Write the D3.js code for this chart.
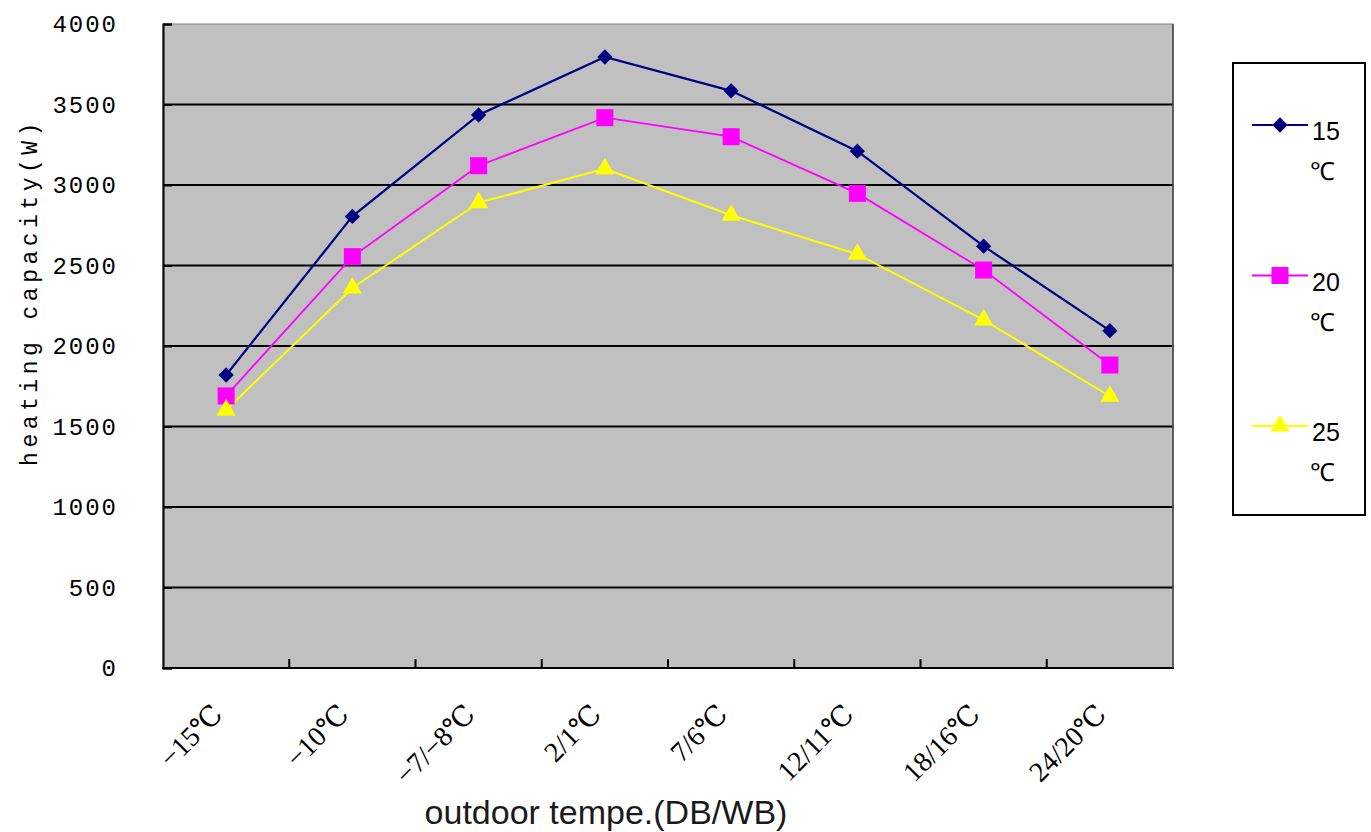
<!DOCTYPE html>
<html>
<head>
<meta charset="utf-8">
<script src="https://cdn.jsdelivr.net/npm/d3@7"></script>
<style>
  body { margin: 0; background: #fff; }
  svg { display: block; }
</style>
</head>
<body>
<div id="chart"></div>
<script>
// data
var categories = ["\u221215\u2103", "\u221210\u2103", "\u22127/\u22128\u2103", "2/1\u2103",
	"7/6\u2103", "12/11\u2103", "18/16\u2103", "24/20\u2103"];
var yTicks = [0, 500, 1000, 1500, 2000, 2500, 3000, 3500, 4000];
var seriesNames = ["15", "20", "25"];
var s15 = [1820, 2805, 3435, 3795, 3585, 3210, 2620, 2095];
var s20 = [1690, 2555, 3120, 3418, 3300, 2948, 2472, 1882];
var s25 = [1602, 2360, 2890, 3100, 2812, 2570, 2162, 1688];

var W = 1371, H = 832;
var plot = {left: 163, right: 1173, top: 24, bottom: 668};

var svg = d3.select("#chart").append("svg")
	.attr("width", W)
	.attr("height", H);

var x = d3.scaleBand()
	.domain(categories)
	.range([plot.left, plot.right]);
var y = d3.scaleLinear()
	.domain([0, 4000])
	.range([plot.bottom, plot.top]);

// plot background
svg.append("rect")
	.attr("x", plot.left)
	.attr("y", plot.top)
	.attr("width", plot.right - plot.left)
	.attr("height", plot.bottom - plot.top)
	.attr("fill", "#c0c0c0")
	.attr("stroke", "#808080")
	.attr("stroke-width", 1);

// horizontal gridlines
svg.append("g")
	.selectAll("line")
	.data(yTicks.filter(d => d > 0 && d < 4000))
	.join("line")
	.attr("x1", plot.left)
	.attr("x2", plot.right)
	.attr("y1", d => y(d))
	.attr("y2", d => y(d))
	.attr("stroke", "#000")
	.attr("stroke-width", 2);

// y axis (ticks point inward)
var yAxis = svg.append("g")
	.attr("transform", "translate(" + plot.left + ",0)")
	.call(d3.axisRight(y).tickValues(yTicks).tickSize(9).tickFormat(""));
yAxis.select(".domain").attr("stroke", "#000").attr("stroke-width", 2);
yAxis.selectAll(".tick line").attr("stroke", "#000").attr("stroke-width", 2);

svg.append("g")
	.selectAll("text")
	.data(yTicks)
	.join("text")
	.attr("x", 118)
	.attr("y", d => y(d) + 8)
	.attr("text-anchor", "end")
	.style("font-family", "'Liberation Mono', 'DejaVu Sans Mono', monospace")
	.style("font-size", "24px")
	.style("letter-spacing", "2px")
	.attr("fill", "#000")
	.text(d => d);

// x axis (ticks at band edges, inward)
var edges = categories.map(c => x(c)).concat([plot.right]);
var xAxis = svg.append("g");
xAxis.append("line")
	.attr("x1", plot.left - 1)
	.attr("x2", plot.right + 1)
	.attr("y1", plot.bottom)
	.attr("y2", plot.bottom)
	.attr("stroke", "#000")
	.attr("stroke-width", 2);
xAxis.selectAll("line.tick")
	.data(edges.slice(1, -1))
	.join("line")
	.attr("class", "tick")
	.attr("x1", d => d)
	.attr("x2", d => d)
	.attr("y1", plot.bottom)
	.attr("y2", plot.bottom - 9)
	.attr("stroke", "#000")
	.attr("stroke-width", 2);
svg.append("line")
	.attr("x1", plot.right)
	.attr("x2", plot.right)
	.attr("y1", plot.top)
	.attr("y2", plot.bottom)
	.attr("stroke", "#404040")
	.attr("stroke-width", 1.5);

// rotated category labels
svg.append("g")
	.selectAll("text")
	.data(categories)
	.join("text")
	.attr("text-anchor", "end")
	.attr("transform", d => "translate(" + (x(d) + x.bandwidth() / 2 - 2) + "," +
		(plot.bottom + 48) + ") rotate(-45)")
	.style("font-family", "'Liberation Serif', 'DejaVu Serif', serif")
	.style("font-size", "28px")
	.attr("fill", "#000")
	.text(d => d);

// axis titles
svg.append("text")
	.attr("x", 606)
	.attr("y", 824)
	.attr("text-anchor", "middle")
	.style("font-family", "'Liberation Sans', Arial, sans-serif")
	.style("font-size", "34px")
	.attr("fill", "#1a1a1a")
	.text("outdoor tempe.(DB/WB)");

svg.append("text")
	.attr("transform", "translate(37,292) rotate(-90)")
	.attr("text-anchor", "middle")
	.style("font-family", "'Liberation Mono', 'DejaVu Sans Mono', monospace")
	.style("font-size", "23px")
	.style("letter-spacing", "4.5px")
	.attr("fill", "#000")
	.text("heating capacity(W)");

// series
var series = [
	{name: seriesNames[0], values: s15, color: "#000080", symbol: d3.symbolDiamond2, size: 150, width: 2.2},
	{name: seriesNames[1], values: s20, color: "#ff00ff", symbol: d3.symbolSquare, size: 290, width: 1.8},
	{name: seriesNames[2], values: s25, color: "#ffff00", symbol: d3.symbolTriangle, size: 160, width: 2}
];

var line = d3.line()
	.x((d, i) => x(categories[i]) + x.bandwidth() / 2)
	.y(d => y(d));

var gLines = svg.append("g");
series.forEach(function(s) {
	gLines.append("path")
		.attr("d", line(s.values))
		.attr("fill", "none")
		.attr("stroke", s.color)
		.attr("stroke-width", s.width);
});
series.forEach(function(s) {
	gLines.append("g")
		.selectAll("path")
		.data(s.values)
		.join("path")
		.attr("transform", (d, i) => "translate(" + (x(categories[i]) + x.bandwidth() / 2) +
			"," + y(d) + ")")
		.attr("d", d3.symbol().type(s.symbol).size(s.size))
		.attr("fill", s.color);
});

// legend
var legend = svg.append("g");
legend.append("rect")
	.attr("x", 1233)
	.attr("y", 63)
	.attr("width", 132)
	.attr("height", 452)
	.attr("fill", "#fff")
	.attr("stroke", "#000")
	.attr("stroke-width", 2);

var legendY = d3.scalePoint()
	.domain(seriesNames)
	.range([125, 426]);

series.forEach(function(s) {
	var ly = legendY(s.name);
	legend.append("line")
		.attr("x1", 1252)
		.attr("x2", 1308)
		.attr("y1", ly)
		.attr("y2", ly)
		.attr("stroke", s.color)
		.attr("stroke-width", 2);
	legend.append("path")
		.attr("transform", "translate(1280," + ly + ")")
		.attr("d", d3.symbol().type(s.symbol).size(s.size))
		.attr("fill", s.color);
	var t = legend.append("text")
		.attr("x", 1312)
		.attr("y", ly + 15)
		.style("font-family", "'Liberation Sans', Arial, sans-serif")
		.style("font-size", "25px")
		.attr("fill", "#000");
	t.append("tspan").text(s.name);
	t.append("tspan")
		.attr("x", 1310)
		.attr("dy", 40)
		.text("\u2103");
});
</script>
</body>
</html>
